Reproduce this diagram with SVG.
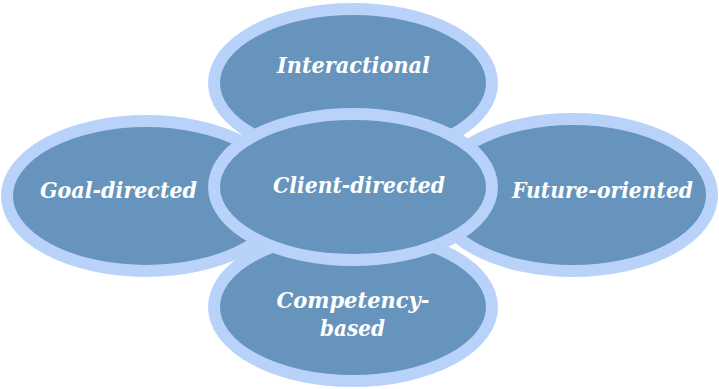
<svg xmlns="http://www.w3.org/2000/svg" width="719" height="389" viewBox="0 0 719 389">
<style>
.n ellipse{fill:#6694bc;stroke:#b9d2fa;stroke-width:12}
.n text{font-family:"DejaVu Serif","Liberation Serif",serif;font-weight:bold;font-style:italic;font-size:22px;fill:#ffffff;text-anchor:middle}
</style>
<rect width="719" height="389" fill="#ffffff"/>
<g id="connectors"></g>
<g id="top" class="n">
<ellipse cx="353" cy="83" rx="139" ry="74"/>
<text x="353.5" y="73" textLength="153" lengthAdjust="spacingAndGlyphs">Interactional</text>
</g>
<g id="bottom" class="n">
<ellipse cx="353" cy="307" rx="139" ry="74"/>
<text x="353" y="308" textLength="153" lengthAdjust="spacingAndGlyphs">Competency-</text>
<text x="352.5" y="336" textLength="65" lengthAdjust="spacingAndGlyphs">based</text>
</g>
<g id="left" class="n">
<ellipse cx="146" cy="196" rx="139" ry="75"/>
<text x="118.5" y="198" textLength="157" lengthAdjust="spacingAndGlyphs">Goal-directed</text>
</g>
<g id="right" class="n">
<ellipse cx="573" cy="195" rx="139" ry="76"/>
<text x="602.5" y="198" textLength="181" lengthAdjust="spacingAndGlyphs">Future-oriented</text>
</g>
<g id="center" class="n">
<ellipse cx="353" cy="187" rx="139" ry="73"/>
<text x="359" y="193" textLength="172" lengthAdjust="spacingAndGlyphs">Client-directed</text>
</g>
</svg>
